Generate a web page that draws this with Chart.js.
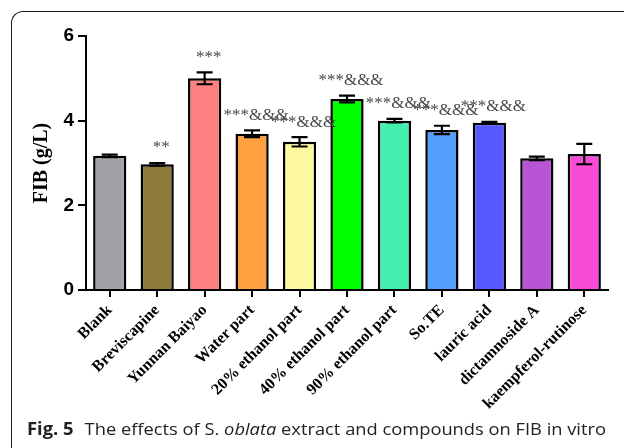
<!DOCTYPE html>
<html>
<head>
<meta charset="utf-8">
<script src="https://cdn.jsdelivr.net/npm/chart.js@4.4.1/dist/chart.umd.min.js"></script>
<style>
  html, body { margin: 0; padding: 0; background: #fff; }
  #wrap { position: relative; width: 624px; height: 448px; overflow: hidden; }
  #frame {
    position: absolute; left: 11px; top: 11px; width: 700px; height: 520px;
    border-left: 1.5px solid #1a1a1a; border-top: 1.5px solid #1a1a1a;
    border-top-left-radius: 12px;
  }
  #chartBox { position: absolute; left: 0; top: 0; width: 624px; height: 448px; }
  #caption {
    position: absolute; left: 27px; top: 419px; white-space: nowrap;
    font-family: "Open Sans", "Noto Sans", sans-serif; font-size: 17px; line-height: 20px;
    color: #222; transform-origin: 0 0;
  }
  #caption b { font-weight: 700; margin-right: 6px; }
</style>
</head>
<body>
<div id="wrap">
  <div id="frame"></div>
  <div id="chartBox"><canvas id="fibChart"></canvas></div>
  <div id="caption"><b>Fig. 5</b> The effects of S. <i>oblata</i> extract and compounds on FIB in vitro</div>
</div>
<script>
// ========== Data ==========
const groupNames = ['Blank', 'Breviscapine', 'Yunnan Baiyao', 'Water part', '20% ethanol part',
    '40% ethanol part', '90% ethanol part', 'So.TE', 'lauric acid', 'dictamnoside A', 'kaempferol-rutinose'];
const fibMeans = [3.17, 2.97, 5.0, 3.69, 3.50, 4.51, 4.0, 3.78, 3.95, 3.11, 3.21];
const fibErrors = [0.03, 0.03, 0.14, 0.08, 0.11, 0.08, 0.04, 0.10, 0.02, 0.04, 0.24];
const sigMarks = ['', '**', '***', '***&&&', '***&&&', '***&&&', '***&&&', '***&&&', '***&&&', '', ''];
const yTicks = [0, 2, 4, 6];

const barColors = ['#a1a1a7', '#8b7a3b', '#ff8080', '#ffa040', '#fdf99f', '#00ff00',
    '#44f0b0', '#55a0ff', '#5858ff', '#b855d6', '#f84cd8'];

// error bars + significance marks
const errorBarPlugin = {
    id: 'errorBars',
    afterDatasetsDraw(chart) {
        const ctx = chart.ctx;
        const yScale = chart.scales.y;
        const meta = chart.getDatasetMeta(0);
        ctx.save();
        ctx.strokeStyle = '#000';
        ctx.lineWidth = 2.2;
        meta.data.forEach(function (bar, i) {
            const x = bar.x;
            const yTop = yScale.getPixelForValue(fibMeans[i] + fibErrors[i]);
            const yBot = yScale.getPixelForValue(fibMeans[i] - fibErrors[i]);
            const half = 8;
            ctx.beginPath();
            ctx.moveTo(x, yTop); ctx.lineTo(x, yBot);
            ctx.moveTo(x - half, yTop); ctx.lineTo(x + half, yTop);
            ctx.moveTo(x - half, yBot); ctx.lineTo(x + half, yBot);
            ctx.stroke();

            if (sigMarks[i]) {
                ctx.fillStyle = '#4a4a4a';
                ctx.font = '17px "Liberation Serif", "Times New Roman", serif';
                ctx.textAlign = 'center';
                ctx.textBaseline = 'middle';
                ctx.fillText(sigMarks[i], x + 4, yTop - 15);
            }
        });
        ctx.restore();
    }
};

const ctx = document.getElementById('fibChart').getContext('2d');
new Chart(ctx, {
    type: 'bar',
    data: {
        labels: groupNames,
        datasets: [{
            label: 'FIB',
            data: fibMeans,
            backgroundColor: barColors,
            borderColor: '#000',
            borderWidth: 2.5,
            borderSkipped: 'bottom',
            barPercentage: 0.7,
            categoryPercentage: 1.0
        }]
    },
    options: {
        responsive: true,
        maintainAspectRatio: false,
        animation: false,
        layout: { padding: { top: 36, left: 30, right: 16, bottom: 0 } },
        plugins: {
            legend: { display: false },
            tooltip: { enabled: false }
        },
        scales: {
            x: {
                grid: { display: true, offset: false, drawOnChartArea: false, drawTicks: true, tickLength: 7, color: '#000', lineWidth: 2 },
                border: { display: true, color: '#000', width: 2 },
                ticks: {
                    color: '#000',
                    minRotation: 45,
                    maxRotation: 45,
                    padding: 4,
                    font: { family: '"Liberation Serif", "Times New Roman", serif', size: 16, weight: 'bold' }
                },
                afterFit(scale) { scale.height = 158; }
            },
            y: {
                min: 0,
                max: 6,
                afterBuildTicks(scale) { scale.ticks = yTicks.map(v => ({ value: v })); },
                grid: { display: true, drawOnChartArea: false, drawTicks: true, tickLength: 8, color: '#000', lineWidth: 2 },
                border: { display: true, color: '#000', width: 2 },
                ticks: {
                    color: '#000',
                    padding: 4,
                    font: { family: '"Liberation Sans", Arial, sans-serif', size: 19, weight: 'bold' }
                },
                title: {
                    display: true,
                    text: 'FIB (g/L)',
                    color: '#000',
                    padding: { top: 0, bottom: 2 },
                    font: { family: '"Liberation Serif", "Times New Roman", serif', size: 20, weight: 'bold' }
                },
                afterFit(scale) { scale.width = 56; }
            }
        }
    },
    plugins: [errorBarPlugin]
});

// squeeze caption to the width it has in the figure
const cap = document.getElementById('caption');
const w = cap.getBoundingClientRect().width;
cap.style.transform = 'scaleX(' + (579 / w) + ')';
</script>
</body>
</html>
